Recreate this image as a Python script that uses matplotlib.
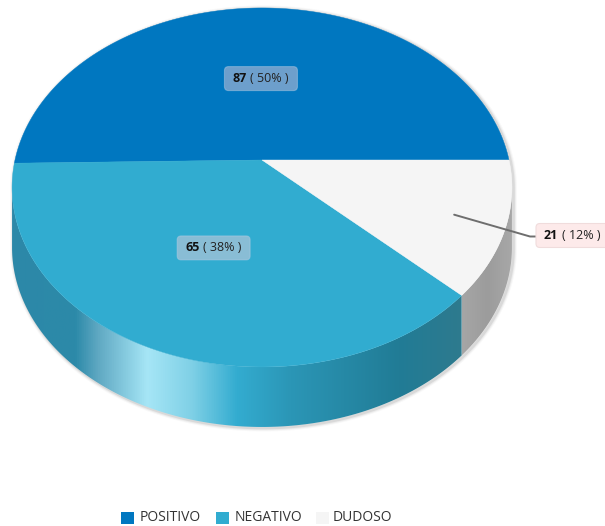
import numpy as np
import matplotlib
matplotlib.use('Agg')
import matplotlib.pyplot as plt
from matplotlib.colors import LinearSegmentedColormap
from matplotlib.patches import FancyBboxPatch, Polygon, Rectangle

plt.rcParams['font.family'] = ['Open Sans', 'DejaVu Sans']

categories = ['POSITIVO', 'NEGATIVO', 'DUDOSO']
values = [87, 65, 21]
percent_labels = ['50%', '38%', '12%']
colors = ['#0077c0', '#31acd0', '#f5f5f5']

# pie geometry in pixels, the disc is tilted so the far side looks smaller
CX, CY = 262, 160
RX, RY = 247, 175.3
PERSP = 0.153
DEPTH = 60
START = 0.0


def project(theta_deg, r=1.0):
    t = np.radians(theta_deg)
    u, v = r * np.cos(t), r * np.sin(t)
    w = 1 + PERSP * v
    return CX + RX * u / w, CY - RY * v / w


def arc(a, b, n=240):
    x, y = project(np.linspace(a, b, n))
    return np.column_stack([x, y])


def side_face(ax, a, b, stops):
    # extruded wall under the arc a..b, shaded left to right
    top = arc(a, b)
    low = top[::-1] + [0, DEPTH]
    poly = Polygon(np.vstack([top, low]), closed=True, fc='none', ec='none')
    ax.add_patch(poly)
    x0, x1 = top[:, 0].min(), top[:, 0].max()
    cmap = LinearSegmentedColormap.from_list('side', stops)
    grad = np.linspace(0, 1, 512).reshape(1, -1)
    im = ax.imshow(grad, cmap=cmap, aspect='auto', zorder=2,
                   extent=[x0, x1, top[:, 1].max() + DEPTH + 2, top[:, 1].min() - 2])
    im.set_clip_path(poly)


def value_label(ax, cx, cy, value, pct, fc, ec, alpha):
    w, h = 70, 21
    box = FancyBboxPatch((cx - w / 2, cy - h / 2), w, h, boxstyle='round,pad=1.5,rounding_size=4',
                         fc=fc, ec=ec, lw=0.8, alpha=alpha, zorder=6)
    ax.add_patch(box)
    left = cx - w / 2 + 6.5
    t = ax.text(left, cy, str(value), fontsize=9, fontweight='bold', color='#111111',
                va='center', ha='left', zorder=7)
    ax.annotate(f'( {pct} )', xy=(1, 0.5), xycoords=t, xytext=(2.5, 0), textcoords='offset points',
                fontsize=9, color='#222222', va='center', ha='left', zorder=7)


fig = plt.figure(figsize=(6.05, 5.26), dpi=100)
ax = fig.add_axes([0, 0, 1, 1])

shares = np.array(values) / sum(values) * 360
edges = START + np.concatenate([[0], np.cumsum(shares)])
mids = (edges[:-1] + edges[1:]) / 2
front_a = 180 + np.degrees(np.arcsin(PERSP))
front_b = 360 - np.degrees(np.arcsin(PERSP))

# soft shadow round the whole solid
outline = np.vstack([arc(front_b - 360, front_a), arc(front_a, front_b) + [0, DEPTH]])
for lw, a in [(5, 0.04), (3.5, 0.07), (2, 0.12)]:
    ax.add_patch(Polygon(outline + [1.5, 1], closed=True, fc='none', ec='#555555', lw=lw, alpha=a, zorder=1))

side_face(ax, front_a, edges[2], [
    (0.00, '#2c88a8'), (0.14, '#2c8aa9'), (0.19, '#5fa8c2'), (0.27, '#92d5e8'),
    (0.30, '#a6e6f6'), (0.40, '#7fd0e6'), (0.50, '#33acd0'), (0.62, '#2b96b6'),
    (0.86, '#217c96'), (1.00, '#2e7a8e')])
side_face(ax, edges[2], front_b, ['#a6a6a6', '#9c9c9c', '#a8a8a8'])

# top face slices
for i, col in enumerate(colors):
    pts = np.vstack([[CX, CY], arc(edges[i], edges[i + 1])])
    ax.add_patch(Polygon(pts, closed=True, fc=col, ec=col, lw=0.3, zorder=3))

# leader for the small slice
lx, ly = project(mids[2], 0.8)
ax.plot([lx, 530, 536], [ly, 236.5, 236.5], color='#6e6e6e', lw=1.4, zorder=5, solid_capstyle='round')

x0, y0 = project(mids[0], 0.5)
value_label(ax, x0, y0, values[0], percent_labels[0], '#ffd4dc', '#b8cfe6', 0.43)
x1, y1 = project(mids[1], 0.5)
value_label(ax, x1, y1, values[1], percent_labels[1], '#ffd4dc', '#b8cfe6', 0.43)
value_label(ax, 572.5, 235.5, values[2], percent_labels[2], '#fdeaea', '#f0dcdc', 1.0)

# legend row
legend_x = [121, 216, 316]
for name, col, lx in zip(categories, colors, legend_x):
    ax.add_patch(Rectangle((lx, 511.5), 12.5, 12.5, fc=col, ec='none', zorder=3))
    ax.text(lx + 19 if name != 'DUDOSO' else lx + 17, 517.5, name, fontsize=10, color='#333333',
            va='center', ha='left')

ax.set_xlim(0, 605)
ax.set_ylim(526, 0)
ax.axis('off')
fig.savefig('out.png', dpi=100)
